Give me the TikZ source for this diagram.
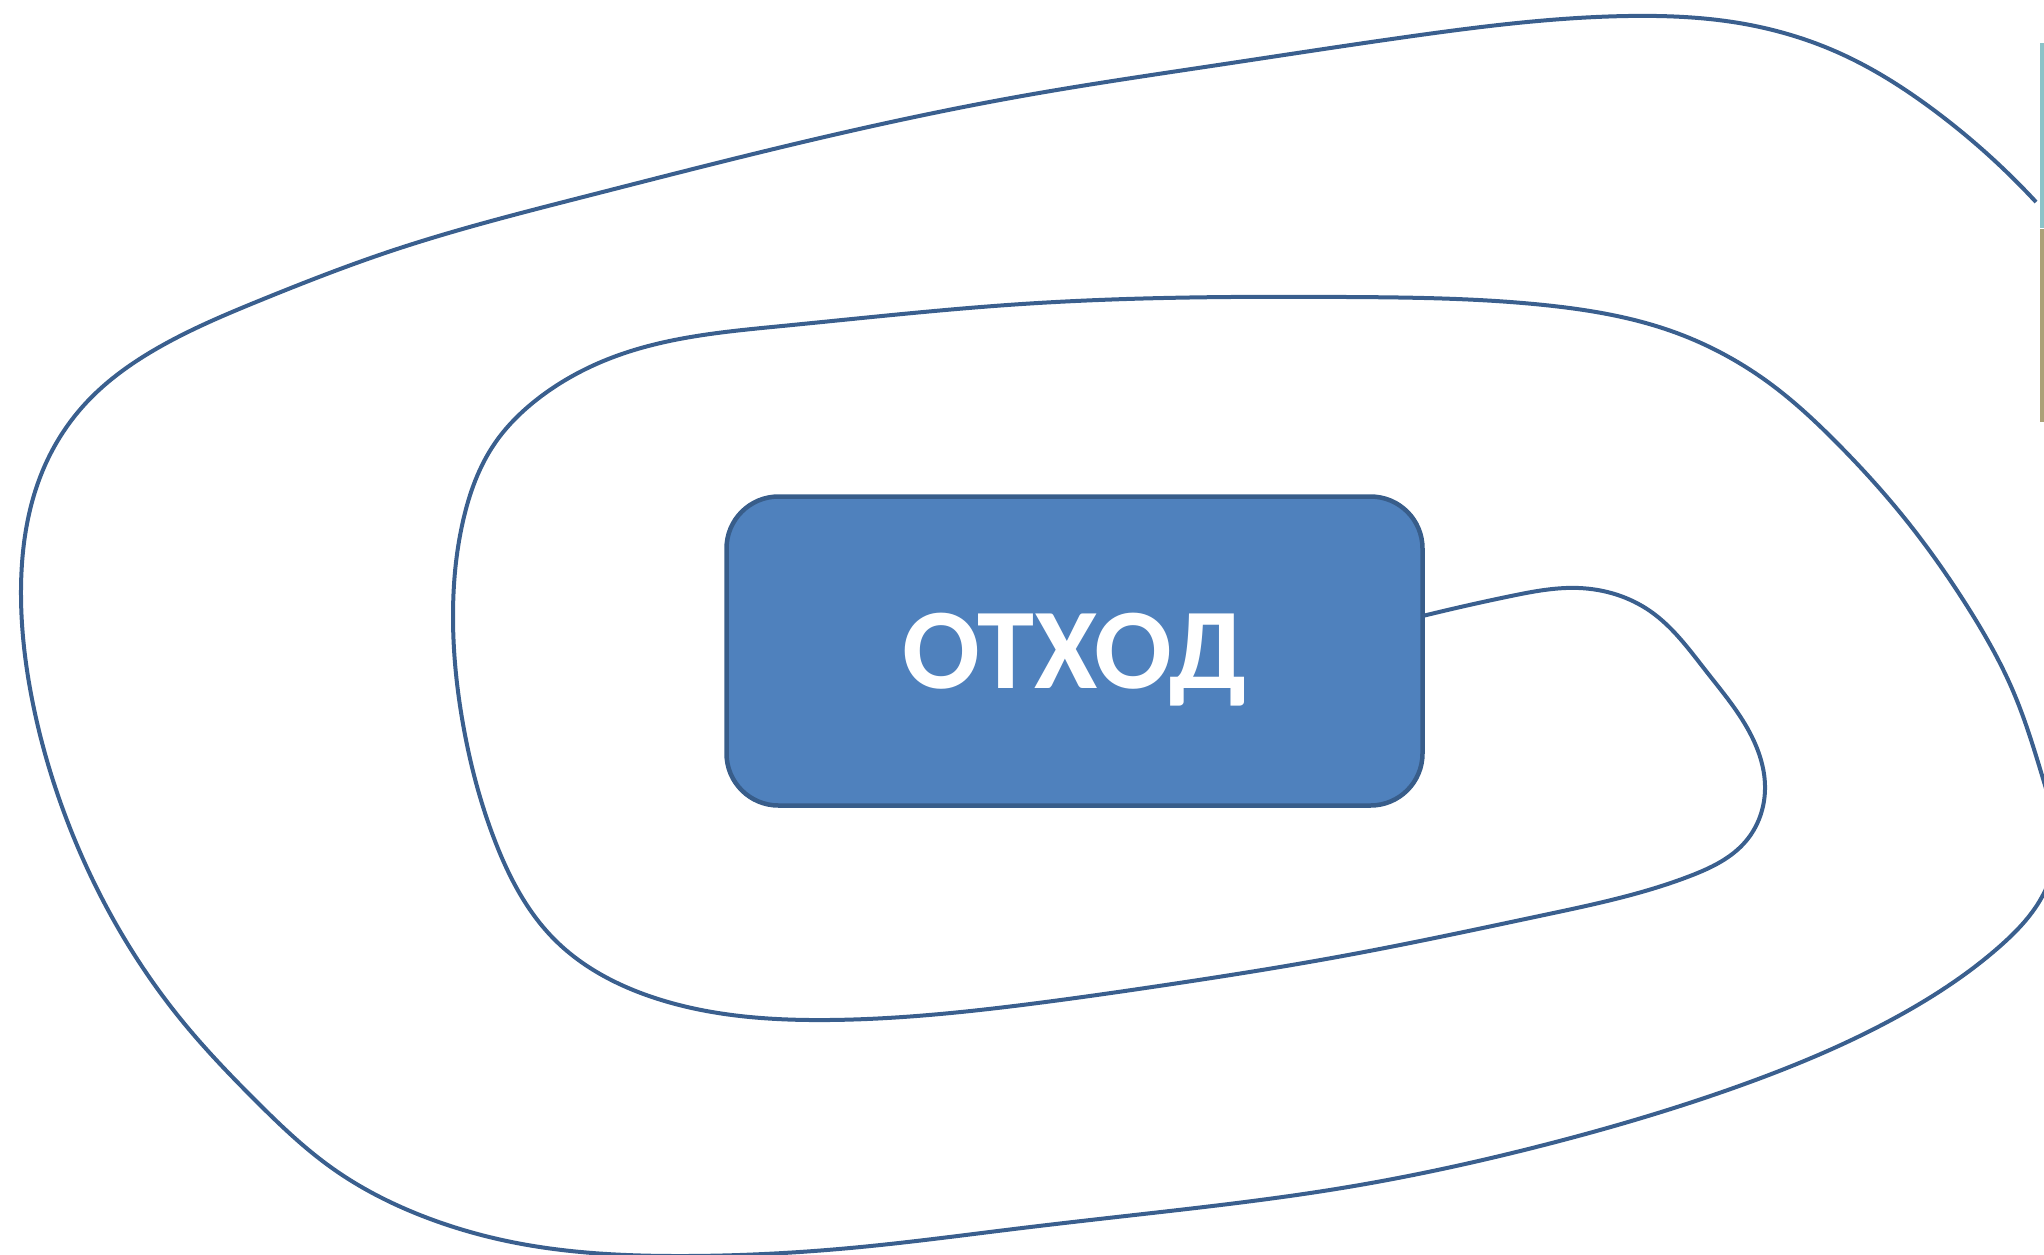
\documentclass[tikz,border=0pt]{standalone}
\usepackage{fontspec}
\setmainfont{Carlito}
\usetikzlibrary{hobby}
\definecolor{boxfill}{HTML}{4F81BD}
\definecolor{boxline}{HTML}{385D8A}
\definecolor{wirecol}{HTML}{3A5F8E}
\definecolor{barA}{HTML}{8CC3C8}
\definecolor{barB}{HTML}{ACA178}
\begin{document}
\begin{tikzpicture}[x=1pt,y=-1pt,
  box/.style={draw=boxline, fill=boxfill, line width=4.5pt, rounded corners=52pt,
    minimum width=696pt, minimum height=309pt, inner sep=0pt, outer sep=0pt,
    text=white, font=\fontsize{115}{132}\selectfont\bfseries, text depth=0pt},
  wire/.style={draw=wirecol, line width=4pt},
  sidebar/.style={fill=white, line width=3.5pt, minimum width=200pt, anchor=north west, inner sep=0pt, outer sep=0pt}]
\useasboundingbox (0,0) rectangle (2044,1254);
\clip (0,0) rectangle (2044,1254);
\node[box] (box) at (1074.5,651) {ОТХОД};
\coordinate (s) at ([yshift=35pt]box.east);
\coordinate (e) at (2036,202);
\draw[wire, use Hobby shortcut]
 (s) .. (1511,596) .. (1579,588) .. (1650,611) .. (1706,671) .. (1752,737)
 .. (1765,789) .. (1746,841) .. (1690,876) .. (1544,915) .. (1348,955)
 .. (1152,987) .. (1022,1005) .. (828,1020) .. (652,997) .. (554,939)
 .. (495,841) .. (463,724) .. (453,616) .. (463,521) .. (495,443)
 .. (535,401) .. (619,355) .. (782,326) .. (1022,304) .. (1348,297)
 .. (1544,305) .. (1674,332) .. (1772,385) .. (1837,443) .. (1902,515)
 .. (1967,606) .. (2013,691) .. (2044,782) .. (2056,840) .. (2044,893)
 .. (1999,947) .. (1902,1014) .. (1739,1086) .. (1544,1145) .. (1348,1187)
 .. (1152,1213) .. (1022,1228) .. (850,1248) .. (680,1256) .. (522,1244)
 .. (420,1215) .. (332,1168) .. (255,1100) .. (183,1022) .. (117,926)
 .. (65,815) .. (33,704) .. (21,590) .. (46,463) .. (85,404) .. (163,345)
 .. (261,300) .. (391,251) .. (587,196) .. (782,147) .. (1022,96)
 .. (1218,65) .. (1413,36) .. (1628,16) .. (1739,23) .. (1837,52)
 .. (1935,111) .. (e);
\node[sidebar, draw=barA, minimum height=181pt] (side1) at (2042,45) {};
\node[sidebar, draw=barB, minimum height=189pt] (side2) at (2042,231) {};
\end{tikzpicture}
\end{document}
